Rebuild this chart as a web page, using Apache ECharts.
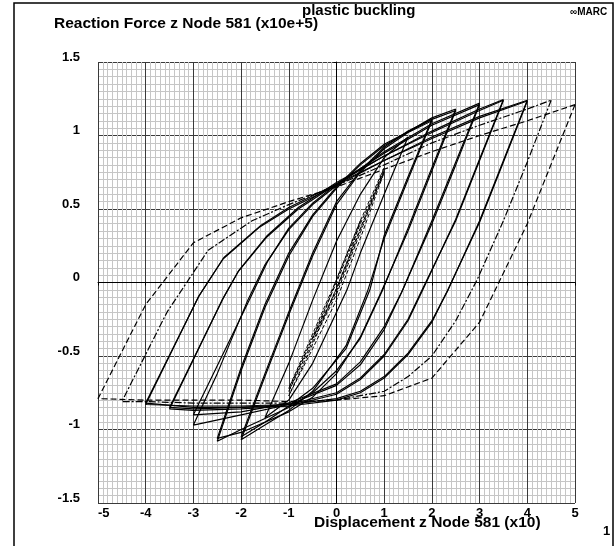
<!DOCTYPE html>
<html>
<head>
<meta charset="UTF-8">
<title>plastic buckling</title>
<style>
  html, body { margin: 0; padding: 0; background: #fff; }
  #chart { width: 616px; height: 546px; }
</style>
</head>
<body>
<div id="chart"></div>
<script src="https://cdn.jsdelivr.net/npm/echarts@6/dist/echarts.min.js"></script>
<script>
// tick labels
var xTicks = [-5, -4, -3, -2, -1, 0, 1, 2, 3, 4, 5]
var yTicks = [-1.5, -1, -0.5, 0, 0.5, 1, 1.5]

// hysteresis loops: [displacement, force]
// each loop: right peak -> unloading -> left peak -> reloading -> right peak
var loop05 = [[0.5, 0.42], [0.2, 0.18], [0, 0.02], [-0.25, -0.2], [-0.5, -0.38], [-0.25, -0.22], [0, -0.04], [0.25, 0.16], [0.5, 0.42]]
var loop10a = [[1, 0.78], [0.5, 0.42], [0, 0.02], [-0.5, -0.35], [-1, -0.72], [-0.5, -0.38], [0, -0.06], [0.5, 0.36], [1, 0.78]]
var loop10b = [[1, 0.76], [0.5, 0.4], [0, 0.0], [-0.5, -0.37], [-1, -0.74], [-0.5, -0.4], [0, -0.08], [0.5, 0.34], [1, 0.76]]
var loop10c = [[1, 0.75], [0.5, 0.37], [0, -0.04], [-0.5, -0.42], [-1, -0.77], [-0.5, -0.45], [0, -0.12], [0.5, 0.3], [1, 0.75]]
var loop15 = [[1.5, 0.99], [1, 0.6], [0.5, 0.2], [0.22, -0.05], [-0.5, -0.55], [-1, -0.8], [-1.5, -0.92], [-1, -0.55], [-0.5, -0.12], [0, 0.28], [0.5, 0.6], [1, 0.85], [1.5, 0.99]]
var loop20 = [[2, 1.11], [1.5, 0.72], [1, 0.32], [0.7, -0.05], [0.2, -0.45], [-0.5, -0.72], [-1, -0.84], [-1.5, -0.95], [-2, -1.05], [-1.5, -0.62], [-1, -0.2], [-0.5, 0.2], [0, 0.55], [0.5, 0.76], [1, 0.92], [1.5, 1.03], [2, 1.11]]
var loop20b = [[2, 1.1], [1.5, 0.7], [1, 0.3], [0.65, -0.06], [0.2, -0.43], [-0.5, -0.74], [-1, -0.87], [-1.5, -0.97], [-2, -1.07], [-1.5, -0.64], [-1, -0.22], [-0.5, 0.18], [0, 0.53], [0.5, 0.75], [1, 0.91], [1.5, 1.02], [2, 1.1]]
var loop25 = [[2.5, 1.18], [2, 0.78], [1.5, 0.37], [0.97, -0.05], [0.5, -0.38], [0, -0.6], [-0.5, -0.75], [-1, -0.85], [-2, -1.0], [-2.5, -1.08], [-2, -0.6], [-1.5, -0.17], [-1, 0.18], [-0.5, 0.45], [0, 0.64], [0.5, 0.8], [1, 0.93], [2, 1.12], [2.5, 1.18]]
var loop25b = [[2.5, 1.17], [2, 0.76], [1.5, 0.35], [0.93, -0.07], [0.5, -0.37], [0, -0.62], [-0.5, -0.78], [-1, -0.88], [-2, -1.02], [-2.5, -1.06], [-2, -0.58], [-1.5, -0.15], [-1, 0.2], [-0.5, 0.46], [0, 0.65], [0.5, 0.81], [1, 0.94], [2, 1.11], [2.5, 1.17]]
var loop30 = [[3, 1.22], [2.5, 0.82], [2, 0.42], [1.39, -0.05], [1, -0.32], [0.5, -0.56], [0, -0.7], [-1, -0.83], [-2, -0.9], [-3, -0.97], [-2.5, -0.62], [-1.86, -0.12], [-1.5, 0.12], [-1, 0.36], [-0.5, 0.53], [0, 0.66], [1, 0.89], [2, 1.08], [3, 1.22]]
var loop30b = [[3, 1.21], [2.5, 0.8], [2, 0.4], [1.36, -0.07], [1, -0.3], [0.5, -0.54], [0, -0.69], [-1, -0.82], [-2, -0.88], [-3, -0.9], [-2.4, -0.5], [-1.8, -0.1], [-1.45, 0.14], [-1, 0.37], [-0.5, 0.54], [0, 0.67], [1, 0.88], [2, 1.07], [3, 1.21]]
var loop35 = [[3.5, 1.245], [3, 0.84], [2.5, 0.43], [1.81, -0.05], [1.5, -0.26], [1, -0.5], [0.5, -0.66], [0, -0.76], [-1, -0.84], [-2, -0.86], [-3, -0.87], [-3.5, -0.86], [-2.4, -0.12], [-2.07, 0.07], [-1.46, 0.31], [-0.8, 0.5], [0, 0.67], [1, 0.86], [2, 1.03], [3, 1.18], [3.5, 1.245]]
var loop35b = [[3.5, 1.24], [3, 0.83], [2.5, 0.42], [1.78, -0.06], [1.5, -0.25], [1, -0.49], [0.5, -0.65], [0, -0.75], [-1, -0.83], [-2, -0.85], [-3, -0.86], [-3.5, -0.85], [-2.38, -0.11], [-2.05, 0.08], [-1.45, 0.32], [-0.8, 0.51], [0, 0.68], [1, 0.86], [2, 1.02], [3, 1.17], [3.5, 1.24]]
var loop40 = [[4, 1.24], [3.5, 0.83], [3, 0.42], [2.34, -0.05], [2, -0.26], [1.5, -0.48], [1, -0.64], [0.5, -0.74], [0, -0.79], [-1, -0.83], [-2, -0.84], [-3, -0.84], [-4, -0.83], [-2.9, -0.1], [-2.38, 0.16], [-1.6, 0.38], [-1, 0.5], [0, 0.66], [1, 0.83], [2, 0.99], [3, 1.13], [4, 1.24]]
var loop40b = [[4, 1.235], [3.5, 0.82], [3, 0.41], [2.32, -0.06], [2, -0.27], [1.5, -0.49], [1, -0.65], [0.5, -0.75], [0, -0.8], [-1, -0.84], [-2, -0.85], [-3, -0.85], [-4, -0.82], [-2.88, -0.09], [-2.36, 0.17], [-1.58, 0.39], [-1, 0.51], [0, 0.67], [1, 0.83], [2, 0.98], [3, 1.12], [4, 1.235]]
var loop45 = [[4.5, 1.24], [4, 0.82], [3.5, 0.42], [2.95, 0.02], [2.5, -0.26], [2, -0.5], [1.5, -0.64], [1, -0.74], [0, -0.8], [-1, -0.82], [-2, -0.82], [-3, -0.82], [-4, -0.81], [-4.5, -0.81], [-3.55, -0.2], [-2.69, 0.22], [-1.77, 0.42], [-1, 0.53], [0, 0.66], [1, 0.8], [2, 0.95], [3, 1.07], [4, 1.18], [4.5, 1.24]]
var loop50 = [[5, 1.21], [4, 0.4], [3, -0.27], [2, -0.65], [1, -0.77], [0, -0.8], [-1, -0.81], [-2, -0.8], [-3, -0.8], [-4, -0.8], [-5, -0.79], [-4, -0.15], [-3, 0.27], [-2, 0.44], [-1, 0.55], [0, 0.65], [1, 0.77], [2, 0.89], [3, 1.0], [4, 1.1], [5, 1.21]]

var dashedLoops = [loop05, loop10a, loop10b, loop10c]
var solidLoops = [loop15, loop20, loop20b, loop25, loop25b, loop30, loop30b, loop35, loop35b, loop40, loop40b]
var longDashLoops = [loop45, loop50]

var font = 'Liberation Sans, Arial, sans-serif'

var series = []
dashedLoops.forEach(function (d) {
  series.push({ type: 'line', data: d, showSymbol: false, silent: true,
    lineStyle: { color: '#000', width: 1, type: [4, 2] } })
})
solidLoops.forEach(function (d) {
  series.push({ type: 'line', data: d, showSymbol: false, silent: true,
    lineStyle: { color: '#000', width: 1.2 } })
})
longDashLoops.forEach(function (d, i) {
  series.push({ type: 'line', data: d, showSymbol: false, silent: true,
    lineStyle: { color: '#000', width: 1.2, type: i == 0 ? [7, 2, 2, 2] : [6, 3] } })
})

var chart = echarts.init(document.getElementById('chart'))
chart.setOption({
  animation: false,
  backgroundColor: '#fff',
  grid: { left: 98, top: 62, width: 477, height: 441, containLabel: false },
  xAxis: {
    type: 'value', min: xTicks[0], max: xTicks[xTicks.length - 1], interval: 1,
    axisLine: { lineStyle: { color: '#000', width: 1 } },
    axisTick: { show: true, length: 3, lineStyle: { color: '#000' } },
    axisLabel: { color: '#000', fontSize: 13, fontWeight: 'bold', fontFamily: font, margin: 4, alignMinLabel: 'left' },
    splitLine: { show: true, lineStyle: { color: '#3a3a3a', width: 1 } },
    minorTick: { show: false, splitNumber: 10 },
    minorSplitLine: { show: true, lineStyle: { color: '#c6c6c6', width: 1 } }
  },
  yAxis: {
    type: 'value', min: yTicks[0], max: yTicks[yTicks.length - 1], interval: 0.5,
    axisLine: { lineStyle: { color: '#000', width: 1 } },
    axisTick: { show: true, length: 3, lineStyle: { color: '#000' } },
    axisLabel: { color: '#000', fontSize: 13, fontWeight: 'bold', fontFamily: font, margin: 18,
      verticalAlign: 'bottom', lineHeight: 10 },
    splitLine: { show: true, lineStyle: { color: '#3a3a3a', width: 1 } },
    minorTick: { show: false, splitNumber: 10 },
    minorSplitLine: { show: true, lineStyle: { color: '#c6c6c6', width: 1 } }
  },
  graphic: [
    { type: 'rect', silent: true, shape: { x: 14, y: 3, width: 599, height: 560 },
      style: { fill: 'none', stroke: '#000', lineWidth: 1.5 } },
    { type: 'text', left: 302, top: 3,
      style: { text: 'plastic buckling', font: 'bold 15px ' + font, fill: '#000' } },
    { type: 'text', left: 54, top: 16,
      style: { text: 'Reaction Force z Node 581 (x10e+5)', font: 'bold 15.5px ' + font, fill: '#000' } },
    { type: 'text', left: 570, top: 7,
      style: { text: '\u221eMARC', font: 'bold 10px ' + font, fill: '#000' } },
    { type: 'text', left: 314, top: 515,
      style: { text: 'Displacement z Node 581 (x10)', font: 'bold 15.5px ' + font, fill: '#000' } },
    { type: 'text', left: 603, top: 525,
      style: { text: '1', font: 'bold 13px ' + font, fill: '#000' } }
  ],
  series: series
})
</script>
</body>
</html>
